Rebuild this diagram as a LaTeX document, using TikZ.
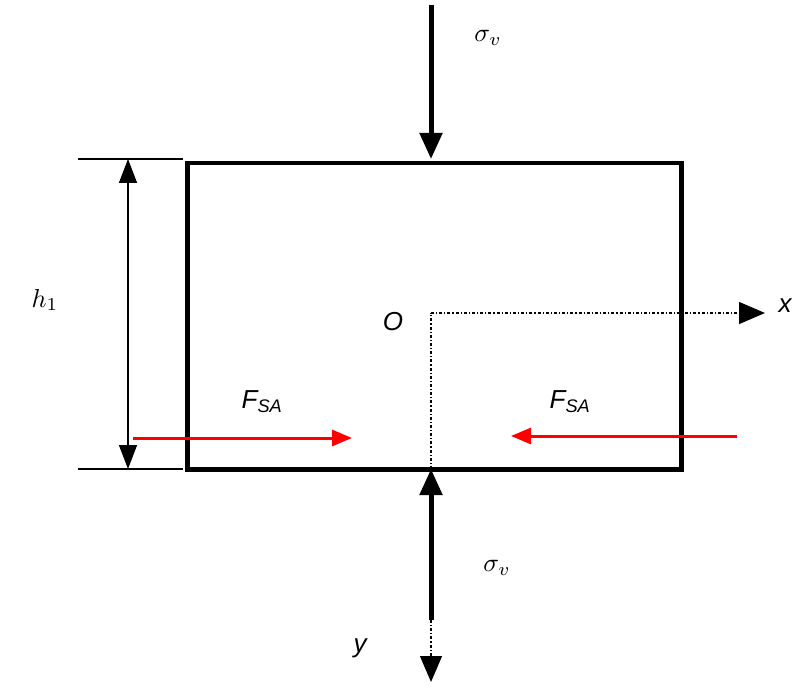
\documentclass[tikz,border=0pt]{standalone}
\usepackage{fontspec}
\setsansfont{Liberation Sans}
\usetikzlibrary{arrows.meta}
\begin{document}
\begin{tikzpicture}[x=1pt,y=-1pt,
  force/.style={line width=5pt,-{Triangle[width=22pt,length=26pt]}},
  redarr/.style={red,line width=3pt,-{Triangle[width=16pt,length=20pt]}},
  dimarr/.style={line width=1.5pt,{Triangle[width=18pt,length=24pt]}-{Triangle[width=18pt,length=24pt]}},
  axis/.style={line width=1.2pt,dash dot},
  lab/.style={font=\fontsize{26}{28}\selectfont\sffamily\itshape},
  sig/.style={scale=2.6}]
\useasboundingbox (0,0) rectangle (801,690);
\node[draw,line width=4.5pt,minimum width=494pt,minimum height=306pt,inner sep=0pt,anchor=north west] (box) at (185,161) {};
\coordinate (topS) at (431,5);
\coordinate (topE) at (431,159);
\coordinate (botS) at (431,620);
\coordinate (botE) at (431,469);
\coordinate (O) at (431,313);
\coordinate (xE) at (765,313);
\coordinate (yE) at (431,682);
\draw[force] (topS) -- (topE);
\draw[force] (botS) -- (botE);
\draw[axis] (botE) -- (O);
\draw[axis,-{Triangle[width=22pt,length=26pt]}] (O) -- (xE);
\draw[axis,-{Triangle[width=22pt,length=26pt]}] (botS) -- (yE);
\coordinate (e1a) at (78,159); \coordinate (e1b) at (183,159);
\coordinate (e2a) at (78,469); \coordinate (e2b) at (183,469);
\draw[line width=1.2pt] (e1a) -- (e1b);
\draw[line width=1.2pt] (e2a) -- (e2b);
\coordinate (d1) at (128,159); \coordinate (d2) at (128,469);
\draw[dimarr] (d1) -- (d2);
\coordinate (r1a) at (133,438); \coordinate (r1b) at (352,438);
\coordinate (r2a) at (737,436); \coordinate (r2b) at (511,436);
\draw[redarr] (r1a) -- (r1b);
\draw[redarr] (r2a) -- (r2b);
\node[sig] (s1) at (488,38) {$\sigma_v$};
\node[sig] (s2) at (497,568) {$\sigma_v$};
\node[sig] (h) at (45,300) {$h_{\mathrm{1}}$};
\node[lab] (Ol) at (393,322) {O};
\node[lab] (xl) at (785,306) {x};
\node[lab] (yl) at (360,648) {y};
\node[lab] (f1) at (262,402) {F\textsubscript{SA}};
\node[lab] (f2) at (570,402) {F\textsubscript{SA}};
\end{tikzpicture}
\end{document}
